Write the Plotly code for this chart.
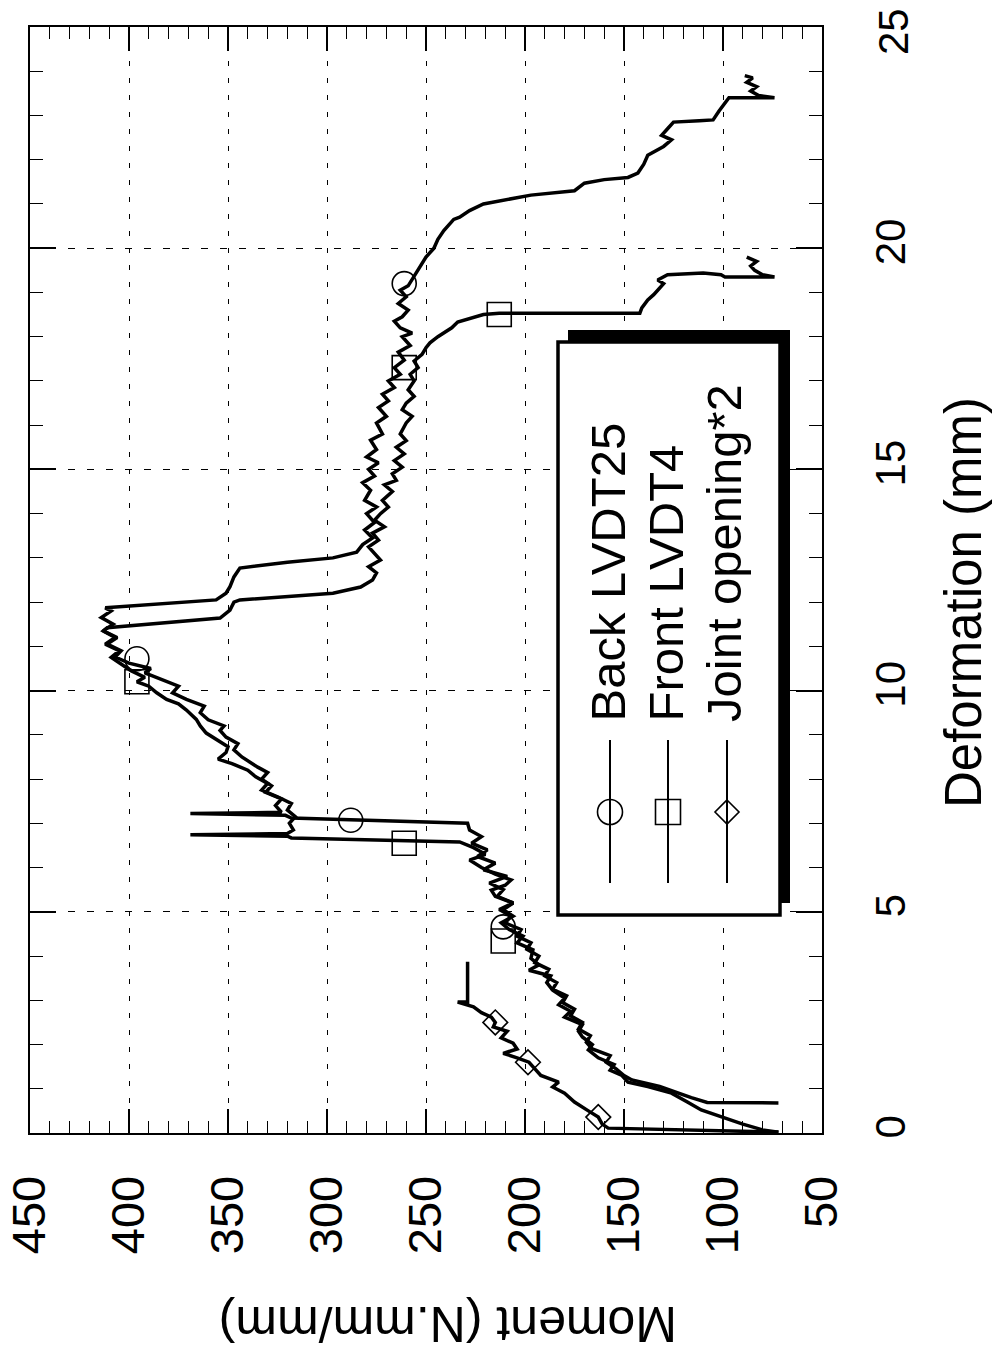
import plotly.graph_objects as go

# ---------------- data (Deformation mm, Moment N.mm/mm) ----------------
back_def = [0.68,0.68,0.69,0.80,0.92,1.05,1.20,1.30,1.45,1.60,1.75,1.90,2.05,2.20,2.35,2.50,2.65,2.80,2.95,3.10,
            3.25,3.40,3.55,3.70,3.85,4.00,4.15,4.30,4.45,4.60,4.75,4.90,5.05,5.20,5.35,5.50,5.65,5.80,5.95,6.10,
            6.25,6.40,6.55,6.70,6.85,7.00,7.12,7.18,7.22,7.25,7.40,7.55,7.70,7.85,8.00,8.15,8.27,8.36,8.50,8.66,
            8.80,8.95,9.10,9.20,9.34,9.50,9.65,9.80,9.95,10.10,10.24,10.40,10.50,10.62,10.76,10.90,11.05,11.20,11.35,11.50,
            11.65,11.80,11.87,11.95,12.05,12.20,12.35,12.57,12.77,12.90,13.00,13.13,13.30,13.45,13.63,13.80,14.00,14.15,14.30,14.53,
            14.70,14.85,15.00,15.15,15.28,15.45,15.66,15.80,16.05,16.20,16.40,16.55,16.70,16.85,17.00,17.15,17.30,17.47,17.65,17.80,
            18.00,18.08,18.20,18.35,18.45,18.60,18.75,18.90,19.05,19.15,19.30,19.45,19.60,19.80,20.00,20.20,20.40,20.55,20.65,20.70,
            20.85,21.00,21.08,21.16,21.20,21.30,21.47,21.55,21.60,21.70,21.90,22.10,22.20,22.30,22.45,22.55,22.70,22.85,22.88,22.90,
            23.10,23.30,23.40,23.40,23.45,23.55,23.65,23.75,23.85,23.90]
back_mom = [72,90,108,116,124,132,146,150,154,159,157,166,169,167,173,171,177,175,181,179,
            186,184,190,188,195,193,199,197,204,202,210,207,213,206,214,211,218,209,221,215,
            224,219,227,222,228,229,318,321,369,323,326,323,331,328,333,330,335,338,343,347,
            345,351,354,352,360,364,362,371,378,375,383,392,389,400,407,404,411,406,413,408,
            414,409,412,385,356,351,349,347,344,320,297,285,282,277,281,276,280,275,281,278,
            282,276,279,274,280,275,278,272,275,270,274,269,272,266,269,263,266,261,264,258,
            262,257,263,266,262,259,264,260,263,259,257,255,253,250,246,244,241,238,236,233,
            228,221,212,203,197,175,170,160,148,143,140,138,134,130,126,131,128,125,112,105,
            102,99,97,74,82,86,83,88,85,89]

front_def = [0.02,0.07,0.20,0.36,0.52,0.70,0.90,1.05,1.15,1.30,1.42,1.55,1.70,1.88,2.00,2.17,2.30,2.45,2.62,2.75,
             2.90,3.05,3.23,3.40,3.55,3.68,3.80,3.95,4.14,4.30,4.45,4.60,4.75,4.90,5.05,5.20,5.35,5.49,5.60,5.72,
             5.85,6.00,6.17,6.30,6.45,6.58,6.67,6.71,6.74,6.77,6.85,7.00,7.15,7.30,7.45,7.60,7.75,7.90,8.05,8.20,
             8.35,8.45,8.60,8.73,8.90,9.04,9.20,9.35,9.56,9.70,9.80,9.95,10.10,10.20,10.30,10.45,10.60,10.75,10.90,11.05,
             11.20,11.35,11.42,11.55,11.64,11.82,12.00,12.05,12.12,12.20,12.34,12.50,12.66,12.80,12.95,13.10,13.25,13.40,13.56,13.70,
             13.85,14.00,14.15,14.30,14.50,14.65,14.75,14.90,15.05,15.20,15.35,15.50,15.65,15.80,16.05,16.20,16.35,16.50,16.65,16.80,
             17.00,17.15,17.30,17.45,17.60,17.75,17.86,18.00,18.08,18.20,18.33,18.40,18.50,18.53,18.53,18.65,18.83,18.95,19.05,19.15,
             19.20,19.28,19.40,19.44,19.40,19.35,19.35,19.40,19.50,19.60,19.70,19.80]
front_mom = [72,80,90,100,111,118,126,138,148,151,157,155,163,168,166,171,173,171,180,177,
             183,180,186,189,187,198,193,197,196,204,201,208,212,206,211,206,215,217,210,207,
             215,222,228,220,226,233,318,320,369,320,317,319,316,320,318,325,333,330,336,340,
             348,355,351,350,356,361,364,366,371,375,381,386,390,396,392,399,404,409,405,412,
             407,413,411,380,354,349,347,344,320,297,283,277,275,279,273,276,279,274,277,271,
             276,273,269,272,267,271,265,267,262,266,261,265,260,263,260,257,262,260,256,259,
             256,258,254,256,252,250,248,244,241,237,234,228,221,213,142,141,138,135,133,131,
             130,133,128,110,101,99,74,80,84,86,83,88]

joint_def = [0.02,0.06,0.11,0.20,0.36,0.50,0.70,0.90,1.04,1.15,1.30,1.45,1.60,1.70,1.80,1.90,2.03,2.15,2.30,2.40,
             2.50,2.62,2.72,2.85,2.96,2.96,3.87]
joint_mom = [72,115,158,161,163,168,175,180,186,183,192,195,198,204,211,204,206,212,209,216,
             215,217,222,226,234,229,229]

# marker positions
back_mk_def = [4.66, 7.07, 10.72, 19.2]
back_mk_mom = [211, 288, 396, 261]
front_mk_def = [4.34, 6.55, 10.2, 17.3, 18.5]
front_mk_mom = [211, 261, 396, 261, 213]
joint_mk_def = [0.36, 1.6, 2.5]
joint_mk_mom = [163, 198.5, 215]

legend_labels = ["Back LVDT25", "Front LVDT4", "Joint opening*2"]
moment_ticks = [450, 400, 350, 300, 250, 200, 150, 100, 50]
deform_ticks = [0, 5, 10, 15, 20, 25]

FONT = "Liberation Sans, Arial, Helvetica, sans-serif"

# ---------------- figure geometry (screen pixels; page body margin removed) ----------------
W, H = 999, 1363
L, R, T, B = 30, 822, 27, 1133   # plot frame in pixels


def px(x):
    return (x - L) / (R - L)


def py(y):
    return (B - y) / (B - T)


fig = go.Figure()
line_style = dict(color="black", width=3.5)
fig.add_trace(go.Scatter(x=back_mom, y=back_def, mode="lines", line=line_style, name=legend_labels[0]))
fig.add_trace(go.Scatter(x=front_mom, y=front_def, mode="lines", line=line_style, name=legend_labels[1]))
fig.add_trace(go.Scatter(x=joint_mom, y=joint_def, mode="lines", line=line_style, name=legend_labels[2]))

mk_line = dict(color="black", width=1.6)
fig.add_trace(go.Scatter(x=back_mk_mom, y=back_mk_def, mode="markers",
                         marker=dict(symbol="circle-open", size=24, line=mk_line, color="black")))
fig.add_trace(go.Scatter(x=front_mk_mom, y=front_mk_def, mode="markers",
                         marker=dict(symbol="square-open", size=24, line=mk_line, color="black")))
fig.add_trace(go.Scatter(x=joint_mk_mom, y=joint_mk_def, mode="markers",
                         marker=dict(symbol="diamond-open", size=19, line=mk_line, color="black")))

# ---------------- legend (drawn rotated, as in the original) ----------------
shapes = []
shapes.append(dict(type="rect", xref="paper", yref="paper",
                   x0=px(568), x1=px(790), y0=py(903), y1=py(330),
                   fillcolor="black", line=dict(width=0)))
shapes.append(dict(type="rect", xref="paper", yref="paper",
                   x0=px(558), x1=px(780), y0=py(915), y1=py(342),
                   fillcolor="white", line=dict(color="black", width=3.5)))
leg_x = [610, 668, 727]
for i, lx in enumerate(leg_x):
    shapes.append(dict(type="line", xref="paper", yref="paper",
                       x0=px(lx), x1=px(lx), y0=py(883), y1=py(740),
                       line=dict(color="black", width=2)))
common = dict(xref="paper", yref="paper", xsizemode="pixel", ysizemode="pixel",
              xanchor=px(leg_x[0]), yanchor=py(812), line=dict(color="black", width=1.6))
shapes.append(dict(type="circle", x0=-12.5, x1=12.5, y0=-12.5, y1=12.5, **common))
c2 = dict(common); c2["xanchor"] = px(leg_x[1])
shapes.append(dict(type="rect", x0=-12.5, x1=12.5, y0=-12.5, y1=12.5, **c2))
c3 = dict(common); c3["xanchor"] = px(leg_x[2])
shapes.append(dict(type="path", path="M 0,12 L 12,0 L 0,-12 L -12,0 Z", **c3))

annotations = []
for lx, lab in zip(leg_x, legend_labels):
    annotations.append(dict(text=lab, xref="paper", yref="paper", x=px(lx - 3), y=py(724),
                            xanchor="center", yanchor="bottom", textangle=-90, showarrow=False,
                            font=dict(family=FONT, size=49, color="black")))

annotations.append(dict(text="Moment (N.mm/mm)", xref="paper", yref="paper", x=px(448), y=py(1324),
                        xanchor="center", yanchor="middle", textangle=180, showarrow=False,
                        font=dict(family=FONT, size=50, color="black")))
annotations.append(dict(text="Deformation (mm)", xref="paper", yref="paper", x=px(964), y=py(603),
                        xanchor="center", yanchor="middle", textangle=-90, showarrow=False,
                        font=dict(family=FONT, size=51, color="black")))
# top deformation tick label placed as text so it stays inside the page
annotations.append(dict(text=str(deform_ticks[-1]), xref="paper", yref="y", x=px(893), y=deform_ticks[-1],
                        yshift=-5, xanchor="center", yanchor="middle", textangle=-90, showarrow=False,
                        font=dict(family=FONT, size=42, color="black")))

y_ticktext = [str(v) for v in deform_ticks[:-1]] + [""]

fig.update_layout(
    width=W, height=H,
    margin=dict(l=L, r=W - R, t=T, b=H - B, pad=0, autoexpand=False),
    paper_bgcolor="white", plot_bgcolor="white",
    showlegend=False,
    shapes=shapes, annotations=annotations,
    xaxis=dict(range=[450, 50], tickmode="array", tickvals=moment_ticks,
               ticktext=[str(v) for v in moment_ticks], automargin=False, ticklabeloverflow="allow",
               tickangle=-90, ticks="inside", ticklen=24, tickwidth=1.5, tickcolor="black",
               minor=dict(dtick=10, tick0=50, ticks="inside", ticklen=12, tickwidth=1.2, tickcolor="black",
                          showgrid=False),
               showgrid=True, gridcolor="black", gridwidth=1, griddash="5px,12px",
               showline=True, linecolor="black", linewidth=2, mirror="ticks", zeroline=False,
               tickfont=dict(family=FONT, size=47, color="black"), ticklabelstandoff=22),
    yaxis=dict(range=[0, 25], side="right", tickmode="array", tickvals=deform_ticks,
               ticktext=y_ticktext, automargin=False, ticklabeloverflow="allow",
               tickangle=-90, ticks="inside", ticklen=26, tickwidth=1.5, tickcolor="black",
               minor=dict(dtick=1, tick0=0, ticks="inside", ticklen=13, tickwidth=1.2, tickcolor="black",
                          showgrid=False),
               showgrid=True, gridcolor="black", gridwidth=1, griddash="7px,12px",
               showline=True, linecolor="black", linewidth=2, mirror="ticks", zeroline=False,
               tickfont=dict(family=FONT, size=42, color="black"), ticklabelstandoff=31),
)

fig.write_html("out.html", config={"displayModeBar": False},
               post_script="document.body.style.margin='0px';document.body.style.overflow='hidden';")
